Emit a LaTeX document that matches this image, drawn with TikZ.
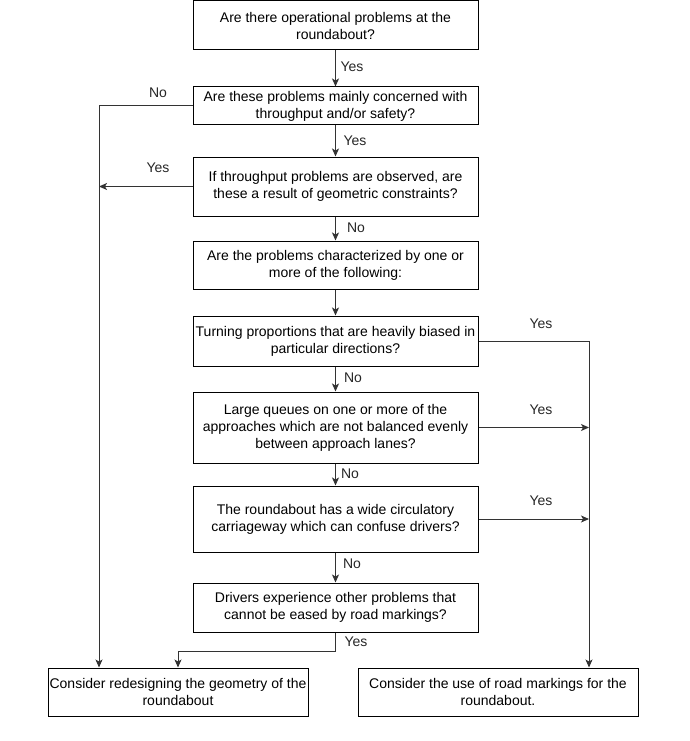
\documentclass[tikz,border=0pt]{standalone}
\usepackage{fontspec}
\setmainfont{Liberation Sans}
\usetikzlibrary{arrows.meta}
\begin{document}
\begin{tikzpicture}[x=1pt,y=-1pt,
  every node/.style={font=\fontsize{14}{17}\selectfont},
  box/.style={draw=black, line width=1pt, align=center, inner sep=0pt, minimum width=285pt},
  lbl/.style={inner sep=0pt, text=black!85},
  arr/.style={draw=black!80, line width=1pt, -{Stealth[length=8pt,width=7pt,inset=2pt]}},
  ln/.style={draw=black!80, line width=1pt}]
\useasboundingbox (0,0) rectangle (689,741);
\node[box, minimum height=49pt] (A) at (335.5,25.5) {Are there operational problems at the\\roundabout?};
\node[box, minimum height=38pt] (B) at (335.5,106) {Are these problems mainly concerned with\\throughput and/or safety?};
\node[box, minimum height=59pt] (C) at (335.5,186.5) {If throughput problems are observed, are\\these a result of geometric constraints?};
\node[box, minimum height=48pt] (D) at (335.5,265) {Are the problems characterized by one or\\more of the following:};
\node[box, minimum height=50pt] (E) at (335.5,341) {Turning proportions that are heavily biased in\\particular directions?};
\node[box, minimum height=71pt] (F) at (335.5,427.5) {Large queues on one or more of the\\approaches which are not balanced evenly\\between approach lanes?};
\node[box, minimum height=66pt] (G) at (335.5,519) {The roundabout has a wide circulatory\\carriageway which can confuse drivers?};
\node[box, minimum height=49pt] (H) at (335.5,607.5) {Drivers experience other problems that\\cannot be eased by road markings?};
\node[box, minimum width=260pt, minimum height=48pt] (I) at (178,692) {Consider redesigning the geometry of the\\roundabout};
\node[box, minimum width=280pt, minimum height=48pt] (J) at (498,692) {Consider the use of road markings for the\\roundabout.};
\coordinate (lx) at (99,106);
\coordinate (rx) at (589,341);
\draw[arr] (A) -- (B);
\draw[arr] (B) -- (C);
\draw[arr] (C) -- (D);
\draw[arr] (D) -- (E);
\draw[arr] (E) -- (F);
\draw[arr] (F) -- (G);
\draw[arr] (G) -- (H);
\draw[arr] (B.west) -| (I.north -| lx);
\draw[arr] (C.west) -- (C.west -| lx);
\draw[arr] (E.east) -| (J.north -| rx);
\draw[arr] (F.east) -- (F.east -| rx);
\draw[arr] (G.east) -- (G.east -| rx);
\draw[arr] (H.south) -- ++(0,19) -| (I.north);
\node[lbl] (l1) at (352,67) {Yes};
\node[lbl] (l2) at (355,141) {Yes};
\node[lbl] (l3) at (356,228) {No};
\node[lbl] (l4) at (353,378) {No};
\node[lbl] (l5) at (350,474) {No};
\node[lbl] (l6) at (352,564) {No};
\node[lbl] (l7) at (356,642) {Yes};
\node[lbl] (l8) at (158,93) {No};
\node[lbl] (l9) at (158,168) {Yes};
\node[lbl] (l10) at (541,324) {Yes};
\node[lbl] (l11) at (541,410) {Yes};
\node[lbl] (l12) at (541,501) {Yes};
\end{tikzpicture}
\end{document}
